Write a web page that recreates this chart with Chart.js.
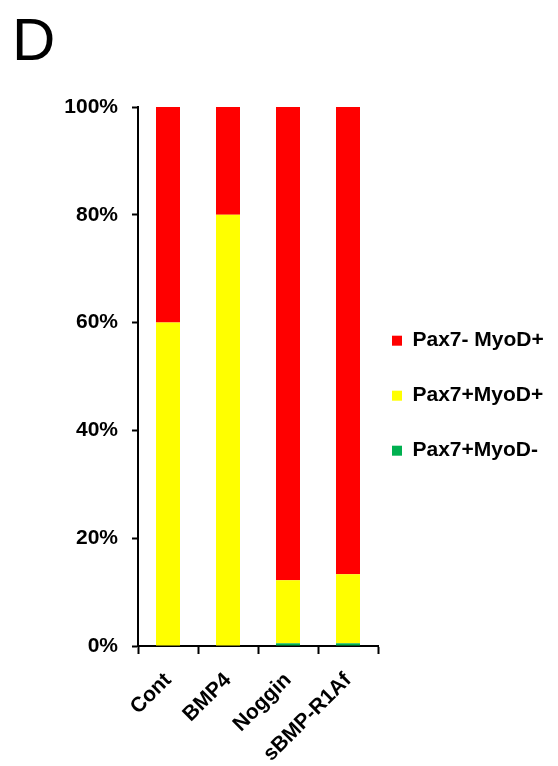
<!DOCTYPE html>
<html>
<head>
<meta charset="utf-8">
<script src="https://cdn.jsdelivr.net/npm/chart.js@4"></script>
<style>
  html, body { margin: 0; background: #fff; overflow: hidden; }
  #wrap { position: relative; width: 558px; height: 766px; }
  #chart-canvas { display: block; }
  #panel { position: absolute; left: 12px; top: 5px; font: 60px "Liberation Sans", Arial, sans-serif; color: #000; }
</style>
</head>
<body>
<div id="wrap">
  <canvas id="chart-canvas" width="558" height="766"></canvas>
  <div id="panel">D</div>
</div>
<script>
const ctx = document.getElementById('chart-canvas');

// groups along the x axis
const categories = ['Cont', 'BMP4', 'Noggin', 'sBMP-R1Af'];

// percent of cells in each group (stacked bottom to top)
const pax7_myod_neg = [0, 0, 0.5, 0.5];
const pax7_myod_pos = [60, 80, 11.7, 12.8];
const pax7neg_myod_pos = [40, 20, 87.8, 86.7];

const y_ticks = [0, 20, 40, 60, 80, 100];

const bold = { family: '"Liberation Sans", Arial, sans-serif', size: 21, weight: 'bold' };

// legend sits a little closer to the plot than chart.js puts it
// (only the left edge moves, v4 clips the legend to its box)
const legend_nudge = {
  id: 'legend_nudge',
  afterLayout(chart) {
    chart.legend.left -= 20;
  }
};

const chart = new Chart(ctx, {
  type: 'bar',
  data: {
    labels: categories,
    datasets: [
      { label: 'Pax7+MyoD-', data: pax7_myod_neg, backgroundColor: '#00b050' },
      { label: 'Pax7+MyoD+', data: pax7_myod_pos, backgroundColor: '#ffff00' },
      { label: 'Pax7- MyoD+', data: pax7neg_myod_pos, backgroundColor: '#ff0000' }
    ]
  },
  plugins: [legend_nudge],
  options: {
    responsive: false,
    animation: false,
    layout: { padding: { top: 107, left: 0, right: 0, bottom: 0 } },
    datasets: {
      bar: { barPercentage: 0.4, categoryPercentage: 1 }
    },
    plugins: {
      tooltip: { enabled: false },
      legend: {
        position: 'right',
        reverse: true,
        fullSize: false,
        maxWidth: 180,
        title: { display: true, text: ' ', padding: 12 },
        labels: {
          boxWidth: 10,
          boxHeight: 10,
          padding: 34,
          color: '#000',
          font: bold
        }
      }
    },
    scales: {
      x: {
        stacked: true,
        afterFit: s => { s.height = 120; },
        border: { color: '#000', width: 2 },
        grid: { display: true, drawOnChartArea: false, tickLength: 8, tickColor: '#000', tickWidth: 2 },
        ticks: { color: '#000', font: bold, minRotation: 45, maxRotation: 45, padding: 14 }
      },
      y: {
        stacked: true,
        min: 0,
        max: 100,
        afterFit: s => { s.width = 138; },
        afterBuildTicks: s => { s.ticks = y_ticks.map(v => ({ value: v })); },
        border: { color: '#000', width: 2 },
        grid: { display: true, drawOnChartArea: false, tickLength: 6, tickColor: '#000', tickWidth: 2 },
        ticks: { color: '#000', font: bold, padding: 14, callback: v => v + '%' }
      }
    }
  }
});
</script>
</body>
</html>
